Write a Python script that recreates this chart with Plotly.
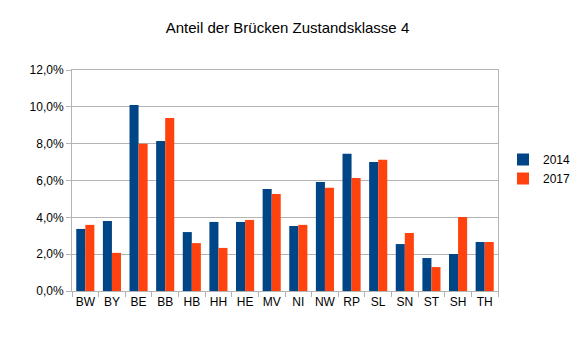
import plotly.graph_objects as go

categories = ["BW", "BY", "BE", "BB", "HB", "HH", "HE", "MV", "NI", "NW", "RP", "SL", "SN", "ST", "SH", "TH"]
v2014 = [3.37, 3.80, 10.1, 8.15, 3.20, 3.75, 3.75, 5.54, 3.53, 5.92, 7.45, 7.01, 2.55, 1.79, 2.01, 2.66]
v2017 = [3.59, 2.07, 7.99, 9.40, 2.60, 2.34, 3.86, 5.27, 3.59, 5.60, 6.14, 7.12, 3.15, 1.30, 4.02, 2.66]
y_ticks = [0, 2, 4, 6, 8, 10, 12]
y_tick_labels = ["0,0%", "2,0%", "4,0%", "6,0%", "8,0%", "10,0%", "12,0%"]

fig = go.Figure()
fig.add_trace(go.Bar(name="2014", x=categories, y=v2014, marker_color="#004586", marker_line_width=0))
fig.add_trace(go.Bar(name="2017", x=categories, y=v2017, marker_color="#ff420e", marker_line_width=0))

font = "Liberation Sans, Arial, sans-serif"
fig.update_layout(
    width=575, height=339,
    margin=dict(l=72, r=77, t=70, b=48, autoexpand=False),
    paper_bgcolor="white", plot_bgcolor="white",
    barmode="group", bargap=0.32, bargroupgap=0,
    font=dict(family=font, size=12, color="#000000"),
    title=dict(text="Anteil der Brücken Zustandsklasse 4", x=0.5, xanchor="center",
               y=1 - 28 / 339, yanchor="middle", font=dict(size=15, color="#000000")),
    legend=dict(xref="container", x=503 / 575, xanchor="left",
                yref="container", y=1 - 169 / 339, yanchor="middle", font=dict(size=12),
                bgcolor="rgba(0,0,0,0)", itemwidth=30, tracegroupgap=0),
    showlegend=True,
)
fig.update_xaxes(showline=True, linecolor="#b3b3b3", linewidth=1, mirror=True,
                 ticks="outside", tickson="boundaries", ticklen=5, tickcolor="#b3b3b3",
                 showgrid=False, tickangle=0, tickfont=dict(size=12), automargin=False)
fig.update_yaxes(range=[0, 12], tickvals=y_ticks, ticktext=y_tick_labels,
                 showline=True, linecolor="#b3b3b3", linewidth=1, mirror=True,
                 ticks="outside", ticklen=5, tickcolor="#b3b3b3",
                 showgrid=True, gridcolor="#b3b3b3", gridwidth=1, zeroline=False,
                 tickfont=dict(size=12), automargin=False)

fig.write_html("out.html")
